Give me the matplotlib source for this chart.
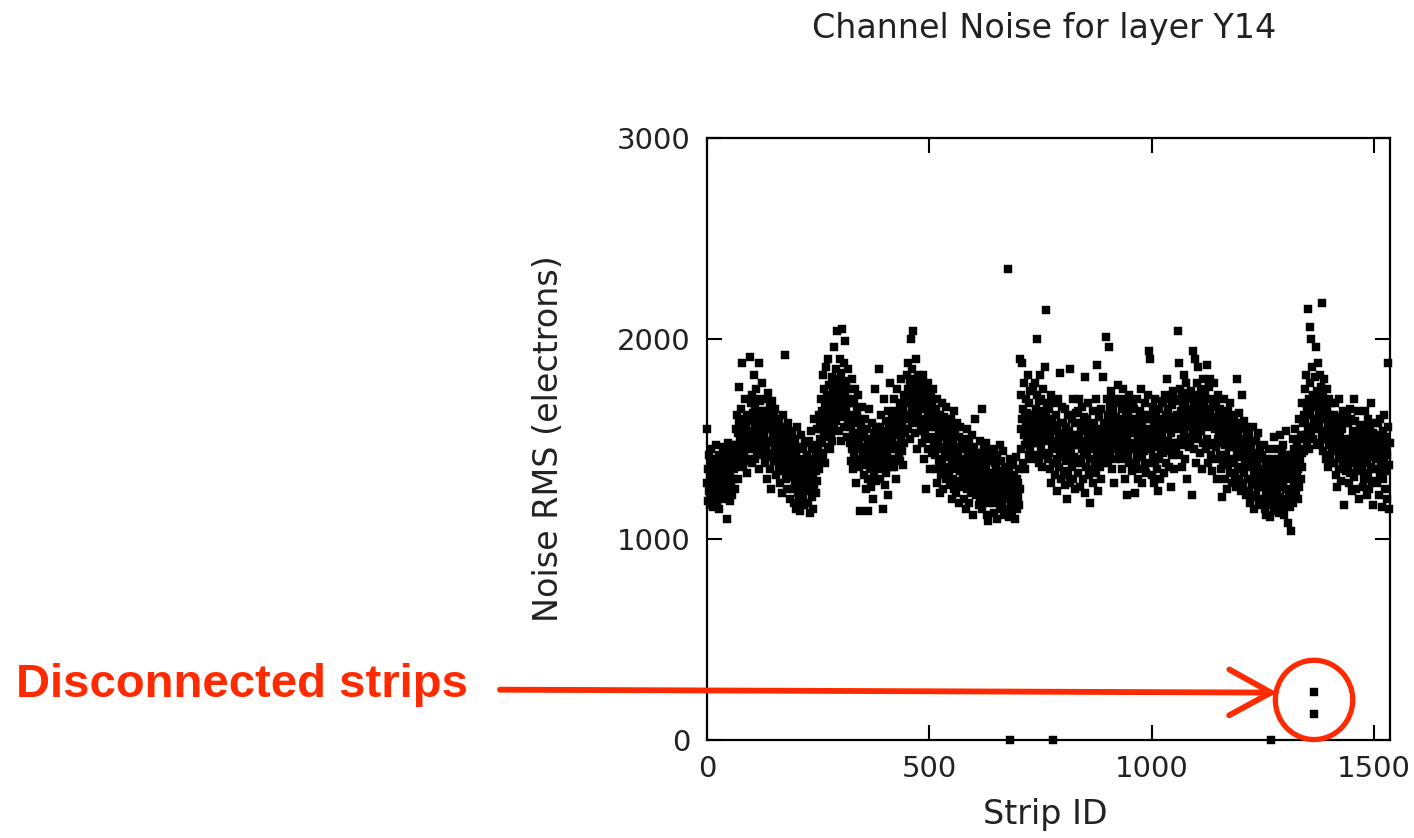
import numpy as np
import matplotlib
matplotlib.use("Agg")
import matplotlib.pyplot as plt
from matplotlib.patches import Ellipse

title = "Channel Noise for layer Y14"
x_label = "Strip ID"
y_label = "Noise RMS (electrons)"
annotation_text = "Disconnected strips"
x_ticks = [0, 500, 1000, 1500]
y_ticks = [0, 1000, 2000, 3000]

# Noise RMS per strip (electrons), strips 0..1535
noise_rms = [
    1550, 1280, 1190, 1350, 1420, 1240, 1310, 1170, 1380, 1260, 1450, 1220, 1330, 1160, 1290, 1400, 1250, 1360, 1200, 1310, 1470, 1230, 1340, 1180, 1280, 1390, 1150, 1300, 1420, 1260, 1210, 1350,
    1320, 1410, 1250, 1380, 1290, 1460, 1200, 1340, 1420, 1270, 1370, 1230, 1100, 1400, 1310, 1480, 1260, 1350, 1430, 1190, 1330, 1390, 1280, 1440, 1360, 1220, 1410, 1300, 1470, 1350, 1250, 1400,
    1420, 1550, 1380, 1620, 1470, 1300, 1530, 1760, 1440, 1580, 1360, 1490, 1650, 1410, 1540, 1880, 1460, 1370, 1600, 1500, 1430, 1700, 1390, 1560, 1480, 1330, 1620, 1450, 1520, 1400, 1590, 1470,
    1910, 1540, 1680, 1450, 1600, 1380, 1720, 1510, 1630, 1470, 1820, 1560, 1400, 1660, 1520, 1750, 1440, 1590, 1700, 1480, 1880, 1620, 1350, 1570, 1690, 1500, 1610, 1420, 1780, 1550, 1640, 1460,
    1520, 1640, 1380, 1580, 1700, 1450, 1560, 1300, 1620, 1490, 1730, 1410, 1550, 1660, 1350, 1600, 1480, 1250, 1570, 1690, 1430, 1530, 1610, 1390, 1500, 1650, 1460, 1320, 1580, 1420, 1540, 1470,
    1430, 1520, 1350, 1600, 1470, 1280, 1560, 1390, 1500, 1230, 1450, 1620, 1340, 1480, 1410, 1920, 1550, 1300, 1440, 1370, 1530, 1250, 1460, 1580, 1330, 1420, 1500, 1200, 1390, 1470, 1310, 1540,
    1360, 1250, 1440, 1180, 1320, 1500, 1270, 1380, 1150, 1420, 1300, 1560, 1230, 1350, 1460, 1190, 1290, 1400, 1140, 1330, 1520, 1260, 1370, 1210, 1450, 1310, 1170, 1390, 1280, 1480, 1240, 1350,
    1300, 1420, 1180, 1370, 1250, 1490, 1330, 1130, 1400, 1280, 1540, 1210, 1360, 1450, 1150, 1320, 1600, 1260, 1380, 1470, 1230, 1410, 1340, 1550, 1290, 1440, 1380, 1620, 1350, 1500, 1430, 1580,
    1550, 1700, 1480, 1640, 1820, 1420, 1590, 1750, 1510, 1680, 1380, 1620, 1860, 1540, 1720, 1460, 1650, 1900, 1580, 1770, 1450, 1700, 1600, 1530, 1810, 1670, 1490, 1740, 1620, 1960, 1560, 1690,
    1780, 1650, 1850, 1590, 1720, 2040, 1680, 1800, 1540, 1760, 1900, 1620, 1740, 1490, 1830, 1700, 2050, 1610, 1770, 1660, 1880, 1560, 1720, 1990, 1640, 1790, 1510, 1700, 1850, 1600, 1750, 1680,
    1620, 1480, 1700, 1390, 1560, 1800, 1450, 1600, 1350, 1520, 1680, 1430, 1750, 1500, 1280, 1580, 1460, 1640, 1400, 1530, 1720, 1360, 1490, 1600, 1140, 1450, 1570, 1380, 1510, 1660, 1420, 1550,
    1400, 1510, 1320, 1460, 1600, 1250, 1430, 1370, 1550, 1140, 1480, 1300, 1420, 1650, 1350, 1500, 1260, 1440, 1580, 1380, 1470, 1200, 1410, 1530, 1330, 1460, 1750, 1290, 1420, 1560, 1360, 1480,
    1500, 1380, 1850, 1440, 1560, 1300, 1470, 1620, 1350, 1520, 1420, 1150, 1480, 1700, 1390, 1540, 1270, 1460, 1590, 1330, 1500, 1440, 1640, 1370, 1220, 1490, 1560, 1400, 1780, 1450, 1520, 1360,
    1480, 1600, 1400, 1550, 1700, 1360, 1520, 1640, 1450, 1580, 1300, 1530, 1750, 1470, 1620, 1420, 1560, 1680, 1390, 1600, 1510, 1800, 1440, 1590, 1660, 1370, 1550, 1720, 1480, 1620, 1530, 1690,
    1700, 1820, 1600, 1750, 1550, 1880, 1680, 1620, 1780, 1500, 1720, 2000, 1640, 1850, 1580, 1740, 2040, 1660, 1800, 1530, 1700, 1900, 1610, 1760, 1680, 1450, 1820, 1640, 1720, 1580, 1790, 1660,
    1700, 1560, 1760, 1480, 1650, 1820, 1540, 1680, 1400, 1600, 1740, 1520, 1660, 1250, 1580, 1700, 1450, 1640, 1780, 1500, 1620, 1350, 1690, 1560, 1720, 1430, 1600, 1660, 1510, 1750, 1470, 1620,
    1560, 1420, 1650, 1350, 1500, 1700, 1280, 1480, 1600, 1380, 1540, 1230, 1450, 1620, 1320, 1510, 1680, 1400, 1570, 1250, 1460, 1610, 1360, 1530, 1440, 1660, 1300, 1490, 1580, 1410, 1520, 1340,
    1450, 1330, 1560, 1270, 1420, 1600, 1200, 1380, 1500, 1300, 1470, 1640, 1250, 1410, 1540, 1350, 1230, 1460, 1380, 1580, 1290, 1430, 1510, 1180, 1400, 1340, 1560, 1260, 1450, 1370, 1490, 1310,
    1400, 1280, 1500, 1200, 1360, 1460, 1150, 1340, 1550, 1250, 1420, 1310, 1480, 1180, 1390, 1300, 1440, 1230, 1370, 1520, 1270, 1410, 1120, 1350, 1460, 1260, 1380, 1600, 1220, 1330, 1430, 1290,
    1350, 1240, 1430, 1170, 1320, 1490, 1200, 1380, 1280, 1420, 1650, 1150, 1340, 1260, 1460, 1190, 1310, 1400, 1230, 1360, 1480, 1120, 1300, 1090, 1390, 1250, 1440, 1180, 1330, 1270, 1410, 1210,
    1290, 1400, 1180, 1330, 1240, 1450, 1130, 1310, 1380, 1200, 1350, 1260, 1100, 1420, 1280, 1190, 1340, 1230, 1470, 1150, 1300, 1250, 1390, 1170, 1320, 1220, 1440, 1120, 1290, 1360, 1210, 1310,
    1250, 1330, 1150, 1280, 2345, 1200, 1350, 1110, 1260, 1400, 0, 1180, 1300, 1220, 1120, 1280, 1370, 1160, 1240, 1320, 1100, 1260, 1190, 1410, 1230, 1150, 1300, 1210, 1280, 1170, 1350, 1250,
    1900, 1550, 1720, 1450, 1880, 1600, 1380, 1650, 1520, 1780, 1470, 1610, 1350, 1570, 1700, 1490, 1630, 1820, 1540, 1420, 1680, 1590, 1460, 1740, 1560, 1400, 1620, 1510, 1760, 1480, 1600, 1530,
    1620, 1500, 1780, 1420, 1650, 1560, 1720, 2000, 1480, 1600, 1380, 1690, 1540, 1820, 1450, 1630, 1700, 1360, 1580, 1750, 1510, 1640, 1420, 1560, 1860, 1490, 1610, 2145, 1530, 1680, 1400, 1600,
    1560, 1430, 1650, 1350, 1500, 1720, 1280, 1460, 1600, 0, 1540, 1380, 1680, 1450, 1570, 1320, 1490, 1620, 1400, 1550, 1240, 1470, 1700, 1360, 1510, 1830, 1440, 1580, 1300, 1530, 1660, 1410,
    1450, 1580, 1340, 1500, 1650, 1270, 1470, 1390, 1560, 1200, 1430, 1620, 1320, 1480, 1540, 1400, 1850, 1280, 1510, 1450, 1600, 1360, 1470, 1700, 1300, 1520, 1410, 1580, 1250, 1490, 1630, 1380,
    1520, 1400, 1640, 1330, 1500, 1700, 1260, 1470, 1580, 1380, 1540, 1450, 1660, 1300, 1490, 1610, 1420, 1550, 1230, 1810, 1480, 1360, 1600, 1440, 1520, 1680, 1320, 1460, 1570, 1400, 1180, 1510,
    1460, 1560, 1350, 1500, 1640, 1280, 1450, 1580, 1390, 1520, 1700, 1330, 1470, 1870, 1410, 1550, 1240, 1480, 1610, 1360, 1500, 1430, 1650, 1300, 1460, 1540, 1380, 1810, 1490, 1570, 1420, 1520,
    1580, 1460, 2010, 1700, 1500, 1620, 1380, 1560, 1960, 1480, 1660, 1420, 1590, 1740, 1350, 1530, 1640, 1450, 1600, 1280, 1550, 1700, 1490, 1610, 1400, 1580, 1680, 1460, 1530, 1770, 1430, 1570,
    1600, 1480, 1700, 1400, 1560, 1650, 1350, 1520, 1750, 1440, 1590, 1300, 1540, 1680, 1460, 1610, 1220, 1500, 1640, 1420, 1570, 1720, 1380, 1530, 1660, 1450, 1590, 1340, 1550, 1690, 1470, 1600,
    1530, 1650, 1230, 1480, 1600, 1380, 1560, 1700, 1420, 1520, 1300, 1590, 1460, 1640, 1350, 1500, 1750, 1410, 1570, 1280, 1490, 1620, 1440, 1530, 1680, 1370, 1510, 1600, 1330, 1550, 1460, 1720,
    1480, 1620, 1940, 1380, 1540, 1900, 1450, 1600, 1320, 1500, 1660, 1410, 1560, 1280, 1470, 1700, 1390, 1530, 1620, 1350, 1490, 1580, 1240, 1460, 1650, 1400, 1520, 1300, 1580, 1440, 1690, 1500,
    1540, 1680, 1430, 1600, 1330, 1560, 1720, 1470, 1620, 1380, 1550, 1800, 1490, 1650, 1360, 1580, 1700, 1440, 1600, 1260, 1530, 1670, 1420, 1590, 1740, 1480, 1610, 1350, 1570, 1690, 1460, 1600,
    1620, 1480, 2040, 1700, 1550, 1880, 1420, 1600, 1750, 1500, 1640, 1360, 1580, 1720, 1470, 1660, 1820, 1540, 1680, 1400, 1610, 1780, 1510, 1650, 1300, 1590, 1730, 1460, 1620, 1560, 1700, 1490,
    1600, 1740, 1220, 1650, 1940, 1520, 1680, 1450, 1620, 1900, 1560, 1700, 1380, 1640, 1780, 1500, 1660, 1860, 1580, 1720, 1430, 1610, 1750, 1540, 1690, 1350, 1630, 1800, 1480, 1660, 1580, 1720,
    1560, 1700, 1450, 1620, 1870, 1500, 1650, 1380, 1590, 1760, 1480, 1630, 1800, 1420, 1580, 1700, 1340, 1560, 1660, 1470, 1610, 1780, 1400, 1550, 1690, 1460, 1600, 1300, 1570, 1720, 1500, 1640,
    1540, 1420, 1650, 1350, 1500, 1620, 1210, 1480, 1580, 1390, 1540, 1700, 1300, 1470, 1600, 1420, 1560, 1250, 1500, 1640, 1370, 1520, 1460, 1680, 1330, 1490, 1590, 1400, 1550, 1280, 1510, 1620,
    1500, 1380, 1600, 1320, 1460, 1580, 1260, 1440, 1800, 1350, 1520, 1410, 1630, 1300, 1480, 1550, 1240, 1420, 1720, 1360, 1500, 1280, 1450, 1590, 1330, 1470, 1400, 1560, 1220, 1430, 1520, 1370,
    1420, 1300, 1520, 1240, 1380, 1480, 1180, 1360, 1450, 1270, 1400, 1560, 1210, 1340, 1430, 1150, 1380, 1300, 1490, 1220, 1360, 1420, 1260, 1530, 1330, 1190, 1400, 1290, 1460, 1170, 1350, 1310,
    1320, 1420, 1200, 1350, 1260, 1470, 1150, 1310, 1380, 1230, 1120, 1400, 1280, 1340, 1190, 1450, 1250, 1360, 1110, 1300, 0, 1220, 1400, 1170, 1330, 1280, 1510, 1140, 1290, 1370, 1210, 1320,
    1350, 1240, 1450, 1180, 1320, 1400, 1130, 1290, 1520, 1210, 1370, 1260, 1430, 1160, 1340, 1280, 1470, 1120, 1300, 1390, 1200, 1350, 1250, 1540, 1190, 1330, 1080, 1420, 1230, 1310, 1380, 1160,
    1300, 1040, 1420, 1220, 1360, 1500, 1180, 1340, 1450, 1270, 1400, 1550, 1230, 1380, 1310, 1480, 1200, 1420, 1350, 1600, 1260, 1450, 1390, 1520, 1300, 1430, 1680, 1360, 1500, 1580, 1440, 1620,
    1600, 1750, 1520, 1680, 1820, 1480, 1640, 2150, 1560, 1700, 1450, 2060, 1620, 1780, 1530, 2000, 1660, 1860, 1500, 1720, 240, 1590, 130, 1810, 1550, 1960, 1680, 1470, 1740, 1600, 1880, 1640,
    1700, 1560, 1820, 1480, 1650, 1760, 1520, 2180, 1600, 1720, 1440, 1660, 1800, 1540, 1680, 1400, 1620, 1750, 1500, 1640, 1360, 1580, 1700, 1470, 1620, 1420, 1560, 1680, 1380, 1540, 1460, 1600,
    1500, 1620, 1380, 1540, 1440, 1680, 1320, 1480, 1590, 1260, 1450, 1560, 1400, 1700, 1350, 1520, 1430, 1610, 1290, 1470, 1550, 1380, 1640, 1420, 1500, 1170, 1460, 1580, 1340, 1490, 1620, 1400,
    1470, 1360, 1580, 1280, 1440, 1650, 1330, 1500, 1400, 1600, 1240, 1460, 1540, 1380, 1700, 1310, 1480, 1420, 1590, 1250, 1450, 1530, 1350, 1640, 1410, 1490, 1200, 1440, 1560, 1370, 1510, 1430,
    1460, 1340, 1570, 1260, 1420, 1520, 1300, 1480, 1640, 1380, 1450, 1220, 1530, 1400, 1600, 1330, 1470, 1250, 1420, 1560, 1360, 1490, 1680, 1290, 1440, 1530, 1170, 1410, 1500, 1350, 1580, 1450,
    1400, 1520, 1280, 1460, 1350, 1580, 1220, 1430, 1500, 1310, 1600, 1380, 1450, 1160, 1410, 1540, 1300, 1470, 1390, 1620, 1250, 1440, 1510, 1340, 1480, 1200, 1420, 1560, 1880, 1370, 1150, 1480,
]
strip_id = np.arange(len(noise_rms))

# Highlighted region (disconnected strips)
circle_center = (1365, 200)

red = "#ff2a00"
text_color = "#222222"

plt.rcParams["font.family"] = ["DejaVu Sans"]
fig = plt.figure(figsize=(14.14, 8.38), dpi=100)
ax = fig.add_axes([0.5, 0.1169, 0.4831, 0.7184])

ax.plot(strip_id, noise_rms, linestyle="none", marker="s", markersize=5.5,
        markerfacecolor="black", markeredgecolor="black", markeredgewidth=0.3,
        clip_on=False, zorder=3)

ax.set_xlim(0, 1536)
ax.set_ylim(0, 3000)
ax.set_xticks(x_ticks)
ax.set_yticks(y_ticks)
ax.tick_params(direction="in", length=11, width=1.5, top=True, right=True,
               labelsize=21, colors="black", labelcolor=text_color)
ax.tick_params(axis="y", pad=12)
ax.tick_params(axis="x", pad=11)
for sp in ax.spines.values():
    sp.set_linewidth(1.6)

ax.set_xlabel(x_label, fontsize=24, color=text_color)
ax.set_ylabel(y_label, fontsize=24, color=text_color)
ax.xaxis.set_label_coords(0.495, -0.097)
ax.yaxis.set_label_coords(-0.208, 0.5)

fig.text(0.7385, 0.966, title, fontsize=24, ha="center", va="center", color=text_color)

# Circle around disconnected strips
circ = Ellipse(circle_center, width=174, height=395, fill=False, edgecolor=red,
               linewidth=3.8, clip_on=False, zorder=5)
ax.add_patch(circ)

# Label and arrow
fig.text(0.011, 0.182, annotation_text, fontsize=34, fontweight="bold",
         color=red, ha="left", va="center", family="Liberation Sans")
ax.annotate("", xy=(0.9031, 0.1735), xycoords="figure fraction",
            xytext=(0.3536, 0.1770), textcoords="figure fraction",
            arrowprops=dict(arrowstyle="->,head_length=1.0,head_width=0.55",
                            color=red, lw=4.2, mutation_scale=30,
                            shrinkA=0, shrinkB=0, capstyle="round",
                            joinstyle="round"),
            annotation_clip=False)

fig.savefig("out.png", dpi=100)
